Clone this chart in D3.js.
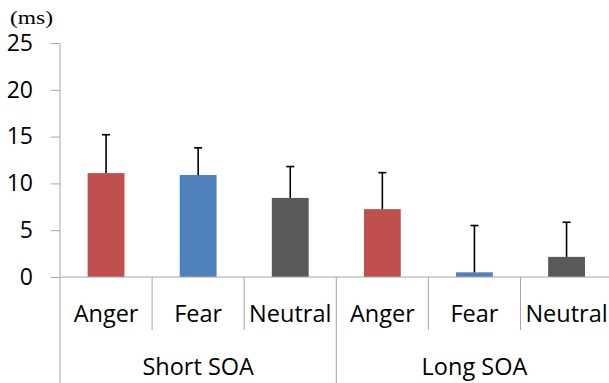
<!DOCTYPE html>
<html>
<head>
<meta charset="utf-8">
<script src="https://cdn.jsdelivr.net/npm/d3@7"></script>
<style>
  html, body { margin: 0; padding: 0; background: #fff; }
  svg { display: block; }
  text { font-family: "Open Sans", sans-serif; fill: #000; }
  text.unit { font-family: "Liberation Serif", "DejaVu Serif", serif; }
</style>
</head>
<body>
<svg id="chart" width="609" height="383"></svg>
<script>
// Mean difference (ms) per emotion, split by SOA condition
const groups = ["Short SOA", "Long SOA"];
const emotions = ["Anger", "Fear", "Neutral"];
const shortMeans = [11.1, 10.9, 8.45];
const longMeans = [7.25, 0.5, 2.15];
const shortErr = [4.1, 2.9, 3.35];
const longErr = [3.9, 5.0, 3.7];
const yTicks = [0, 5, 10, 15, 20, 25];
const colors = ["#C0504D", "#4F81BD", "#595959"];

const rows = [];
groups.forEach((g, gi) => {
  const means = gi === 0 ? shortMeans : longMeans;
  const errs = gi === 0 ? shortErr : longErr;
  emotions.forEach((e, ei) => {
    rows.push({ key: g + "|" + e, group: g, emotion: e, value: means[ei], err: errs[ei], color: colors[ei] });
  });
});

const svg = d3.select("#chart");
const plotLeft = 60, plotRight = 612.6, plotTop = 43, plotBase = 277;
const axisColor = "#A6A6A6";

const x = d3.scaleBand().domain(rows.map(d => d.key)).range([plotLeft, plotRight]).padding(0);
const y = d3.scaleLinear().domain([0, 25]).range([plotBase, plotTop]);
const bw = x.bandwidth() * 0.4;

// y axis
const yAxis = svg.append("g").attr("transform", `translate(${plotLeft},0)`)
  .call(d3.axisLeft(y).tickValues(yTicks).tickSize(9).tickPadding(18).tickSizeOuter(0));
yAxis.select(".domain").remove();
yAxis.selectAll(".tick line").attr("stroke", axisColor);
yAxis.selectAll(".tick text").attr("font-size", 23).attr("fill", "#000");
svg.append("line").attr("x1", plotLeft).attr("x2", plotLeft).attr("y1", y(25)).attr("y2", 383)
  .attr("stroke", axisColor);

// unit label
svg.append("text").attr("class", "unit").attr("x", 10).attr("y", 24)
  .attr("font-size", 19)
  .attr("textLength", 43).attr("lengthAdjust", "spacingAndGlyphs")
  .text("(ms)");

// bars
svg.append("g").selectAll("rect").data(rows).join("rect")
  .attr("x", d => x(d.key) + (x.bandwidth() - bw) / 2)
  .attr("y", d => y(d.value))
  .attr("width", bw)
  .attr("height", d => plotBase - y(d.value))
  .attr("fill", d => d.color);

// error bars (upper only)
const eg = svg.append("g").attr("stroke", "#000").attr("stroke-width", 1.6);
rows.forEach(d => {
  const cx = x(d.key) + x.bandwidth() / 2;
  eg.append("line").attr("x1", cx).attr("x2", cx).attr("y1", y(d.value)).attr("y2", y(d.value + d.err));
  eg.append("line").attr("x1", cx - 4).attr("x2", cx + 4).attr("y1", y(d.value + d.err)).attr("y2", y(d.value + d.err));
});

// baseline
svg.append("line").attr("x1", plotLeft).attr("x2", 609).attr("y1", plotBase).attr("y2", plotBase)
  .attr("stroke", axisColor).attr("stroke-width", 1.2);

// category separators and labels
rows.forEach((d, i) => {
  const x0 = x(d.key);
  const isGroupEdge = i % 3 === 0;
  if (i > 0) {
    svg.append("line").attr("x1", x0).attr("x2", x0).attr("y1", plotBase)
      .attr("y2", isGroupEdge ? 383 : 330).attr("stroke", axisColor);
  }
  svg.append("text").attr("x", x0 + x.bandwidth() / 2).attr("y", 313)
    .attr("text-anchor", "middle").attr("dominant-baseline", "central")
    .attr("font-size", 23.5).text(d.emotion);
});

// group labels
groups.forEach((g, gi) => {
  const first = x(g + "|" + emotions[0]);
  const last = x(g + "|" + emotions[2]) + x.bandwidth();
  svg.append("text").attr("x", (first + last) / 2).attr("y", 366)
    .attr("text-anchor", "middle").attr("dominant-baseline", "central")
    .attr("font-size", 23.5).text(g);
});
</script>
</body>
</html>
